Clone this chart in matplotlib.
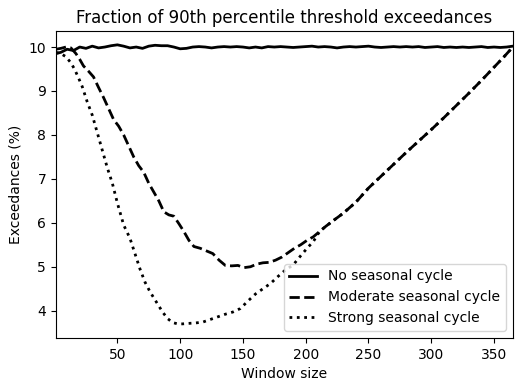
import numpy as np
import matplotlib
matplotlib.use('Agg')
import matplotlib.pyplot as plt

# no seasonal cycle
x_none = [1, 5, 10, 15, 20, 25, 30, 35, 40, 45, 50, 55, 60, 65, 70, 75, 80, 85,
          90, 95, 100, 105, 110, 115, 120, 125, 130, 135, 140, 145, 150, 155,
          160, 165, 170, 175, 180, 185, 190, 195, 200, 205, 210, 215, 220, 225,
          230, 235, 240, 245, 250, 255, 260, 265, 270, 275, 280, 285, 290, 295,
          300, 305, 310, 315, 320, 325, 330, 335, 340, 345, 350, 355, 360, 365]
y_none = [9.85, 9.88, 9.95, 9.92, 10.0, 9.97, 10.02, 9.98, 10.0, 10.03, 10.05,
          10.02, 9.98, 10.0, 9.97, 10.02, 10.04, 10.03, 10.03, 10.0, 9.96, 9.97,
          10.0, 10.01, 10.0, 9.98, 10.0, 10.01, 10.0, 10.01, 10.0, 9.98, 10.0,
          9.98, 10.01, 10.0, 10.01, 10.0, 9.99, 10.0, 10.01, 10.02, 10.0, 10.01,
          10.0, 9.98, 10.0, 10.01, 10.0, 10.01, 10.02, 10.0, 9.99, 10.0, 10.01,
          10.0, 10.01, 10.0, 10.01, 9.99, 10.0, 10.01, 9.99, 10.0, 9.99, 10.0,
          9.99, 10.0, 10.01, 9.99, 10.0, 9.99, 10.0, 10.02]

# moderate seasonal cycle
x_mod = [1, 5, 9, 13, 17, 20, 23, 27, 31, 35, 39, 43, 47, 51, 55, 59, 63, 67,
         71, 75, 79, 83, 87, 91, 95, 99, 103, 107, 111, 116, 121, 126, 131,
         136, 141, 146, 151, 156, 161, 166, 171, 176, 181, 186, 191, 196, 201,
         206, 211, 216, 222, 230, 240, 250, 260, 270, 280, 290, 300, 310, 320,
         330, 340, 350, 358, 365]
y_mod = [9.95, 9.97, 10.0, 9.98, 9.85, 9.72, 9.57, 9.45, 9.32, 9.08, 8.85, 8.6,
         8.35, 8.2, 8.0, 7.75, 7.5, 7.3, 7.15, 6.9, 6.7, 6.5, 6.25, 6.18, 6.15,
         5.98, 5.8, 5.6, 5.46, 5.42, 5.36, 5.3, 5.15, 5.03, 5.02, 5.03, 4.98,
         5.0, 5.06, 5.09, 5.1, 5.15, 5.22, 5.32, 5.42, 5.5, 5.6, 5.68, 5.8,
         5.92, 6.05, 6.22, 6.47, 6.79, 7.06, 7.33, 7.6, 7.86, 8.12, 8.39, 8.67,
         8.95, 9.24, 9.54, 9.78, 10.0]

# strong seasonal cycle
x_str = [1, 5, 9, 13, 16, 19, 22, 26, 30, 34, 38, 42, 46, 50, 55, 60, 64, 68,
         72, 76, 81, 86, 90, 94, 98, 102, 106, 112, 118, 124, 130, 136, 142,
         148, 154, 160, 166, 172, 178, 184, 190, 196, 202, 206, 211, 216, 222,
         230, 240, 250, 260, 270, 280, 290, 300, 310, 320, 330, 340, 350, 358,
         365]
y_str = [9.88, 9.85, 9.78, 9.64, 9.49, 9.3, 9.1, 8.75, 8.45, 8.05, 7.65, 7.25,
         6.9, 6.45, 5.95, 5.65, 5.3, 4.95, 4.65, 4.43, 4.2, 3.97, 3.82, 3.73,
         3.7, 3.7, 3.71, 3.72, 3.74, 3.8, 3.86, 3.92, 3.97, 4.05, 4.22, 4.38,
         4.5, 4.62, 4.78, 4.93, 5.04, 5.25, 5.45, 5.57, 5.8, 5.92, 6.05, 6.22,
         6.47, 6.79, 7.06, 7.33, 7.6, 7.86, 8.12, 8.39, 8.67, 8.95, 9.24, 9.54,
         9.78, 10.0]

fig, ax = plt.subplots(figsize=(5.32, 3.91), dpi=100)
fig.subplots_adjust(left=0.105, right=0.964, top=0.921, bottom=0.136)

ax.plot(x_none, y_none, color='k', ls='-', lw=2, label='No seasonal cycle')
ax.plot(x_mod, y_mod, color='k', ls='--', lw=2, label='Moderate seasonal cycle')
ax.plot(x_str, y_str, color='k', ls=':', lw=2, label='Strong seasonal cycle')

ax.set_xlim(1, 365)
ax.set_xticks([50, 100, 150, 200, 250, 300, 350])
ax.set_yticks([4, 5, 6, 7, 8, 9, 10])
ax.set_xlabel('Window size')
ax.set_ylabel('Exceedances (%)')
ax.set_title('Fraction of 90th percentile threshold exceedances')
ax.legend(loc='lower right')

plt.savefig('out.png', dpi=100)
